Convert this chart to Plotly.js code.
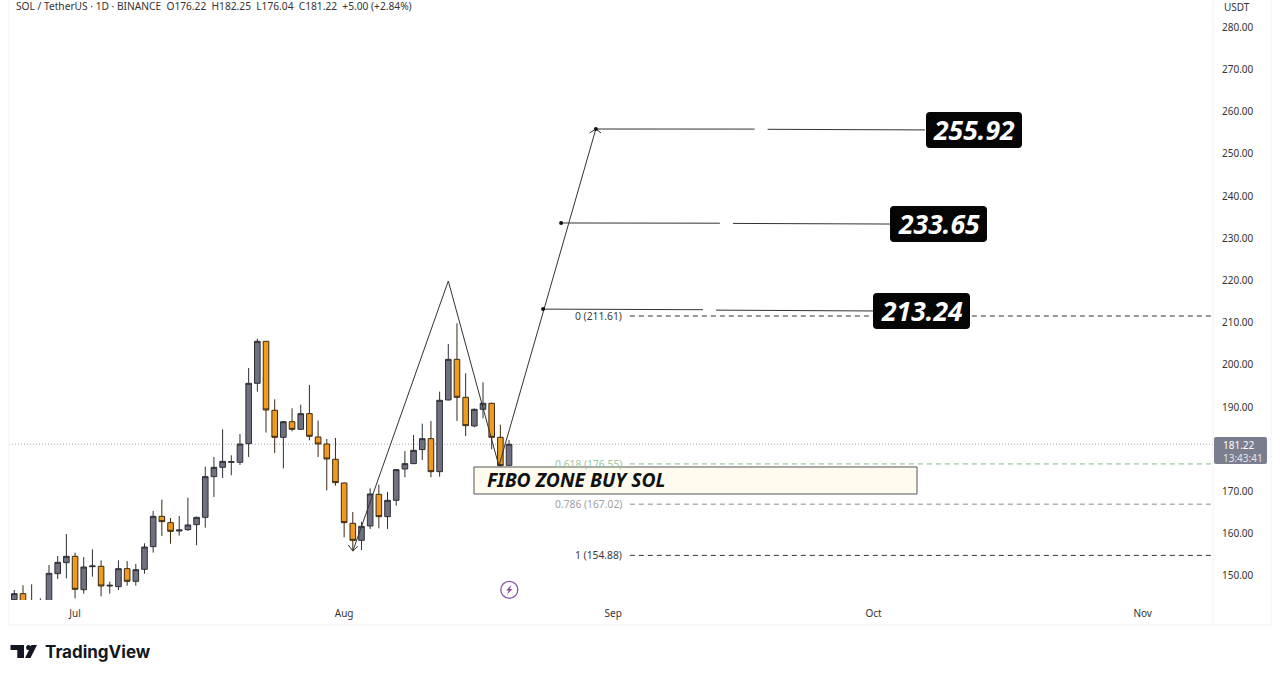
<!DOCTYPE html>
<html><head><meta charset="utf-8">
<script src="https://cdn.plot.ly/plotly-3.0.1.min.js"></script>
<style>html,body{margin:0;padding:0;background:#fff}#c{width:1280px;height:678px}</style>
</head><body><div id="c"></div>
<script>
const firstDay = '2025-06-24';
const opens = [144.39,145.81,142,142,143.6,150.55,153.16,154.66,146.76,152.21,152.29,147.63,147.47,151.74,148.74,151.58,156.95,164.14,162.64,160.66,160.98,162.16,163.90,173.54,175.75,176.94,176.94,181.36,195.66,205.61,189.26,182.86,186.57,184.75,188.47,182.94,181.28,177.65,172.04,162.48,158.45,161.85,169.35,164.06,167.93,175.36,176.62,179.94,182.54,174.72,191.71,201.34,192.34,185.55,189.49,190.92,182.86,176.22];
const highs = [146.68,147.79,148.03,144.71,152.61,154.74,159.95,155.53,154.50,156.32,153.71,148.66,153.71,153.55,152.84,157.74,165.40,168.09,163.74,164.22,168.56,164.06,175.91,178.20,184.75,178.59,183.65,199.29,206.24,205.61,191.86,186.65,189.73,190.60,195.26,186.81,182.46,182.70,172.10,165.17,162.88,170.77,171.64,169.91,175.28,179.62,183.41,186.10,186.73,193.68,204.98,209.87,198.03,189.73,195.89,191.07,185.86,182.25];
const lows = [144.15,143.2,141.8,141,143,149.29,149.45,144.71,145.81,149.84,145.18,145.81,146.68,147.71,147.71,150.55,155.53,159.48,157.66,159.56,160.66,157.27,161.45,168.72,173.22,173.85,176.30,178.20,193.68,183.97,179.15,175.51,184.28,184.60,182.15,178.20,170.30,171.41,159.16,156.16,156.16,161.14,161.30,161.14,166.67,173.38,176.54,177.49,173.38,173.54,191.63,186.73,183.18,185.23,187.36,180.02,175.91,176.04];
const closes = [145.81,143.5,143.8,144.0,150.63,153.24,154.66,146.84,152.13,152.37,147.63,147.79,151.74,148.74,151.50,156.87,164.14,162.88,160.58,160.90,162.09,163.90,173.54,175.75,177.17,177.09,181.28,195.66,205.61,189.34,182.86,186.57,184.75,188.47,183.10,181.28,177.73,172.12,162.64,158.45,161.77,169.43,164.06,167.93,175.20,176.62,179.78,182.54,174.72,191.63,201.34,192.34,185.62,189.49,190.92,182.86,176.15,181.22];

const tickDates = ['2025-07-01','2025-08-01','2025-09-01','2025-10-01','2025-11-01'];
const tickLabels = ['Jul','Aug','Sep','Oct','Nov'];
const xRange = ['2025-06-23 09:22','2025-11-09 02:24'];
const yRange = [144.31,286.49];
const lastClose = 181.22;

const zigDates = ['2025-08-02 00:00','2025-08-13 00:00','2025-08-18 20:00','2025-08-30 00:00'];
const zigPrices = [155.9,219.9,176.07,255.92];

const target1Dates = ['2025-08-23 22:00','2025-09-11 08:00',null,'2025-09-12 20:00','2025-09-30 22:00'];
const target1Prices = [213.24,213.1,null,213.0,212.8];
const target2Dates = ['2025-08-26 00:00','2025-09-13 07:00',null,'2025-09-14 19:00','2025-10-02 22:00'];
const target2Prices = [233.65,233.6,null,233.55,233.4];
const target3Dates = ['2025-08-30 00:00','2025-09-17 07:00',null,'2025-09-18 19:00','2025-10-06 22:00'];
const target3Prices = [255.92,255.9,null,255.85,255.7];

const dotDates = ['2025-08-23 22:00','2025-08-26 00:00','2025-08-30 00:00'];
const dotPrices = [213.24,233.65,255.92];

const arrowDates = ['2025-08-01 11:30','2025-08-02 00:00','2025-08-02 14:00',null,'2025-08-29 07:00','2025-08-30 00:00','2025-08-30 14:00'];
const arrowPrices = [157.35,155.9,157.1,null,255.0,255.92,255.0];

const fibNames = ['0 (211.61)','0.618 (176.55)','0.786 (167.02)','1 (154.88)'];
const fibPrices = [211.61,176.55,167.02,154.88];
const fibTextColors = ['#3a3a3a','#9cc79c','#a0a0a0','#3a3a3a'];
const fibLineColors = ['#333333','#86b886','#8a8a8a','#333333'];
const fibStart = '2025-09-02 22:00';
const fibLabelAt = '2025-09-02 02:00';

const zoneText = 'FIBO ZONE BUY SOL';
const zoneDates = ['2025-08-15 23:00','2025-10-06 00:00'];
const zonePrices = [175.83,169.43];

const targetLabels = ['213.24','233.65','255.92'];
const targetBoxes = [[873,293,970,329],[890,206,987,242],[926,112,1022,148]];

const headerText = 'SOL / TetherUS · 1D · BINANCE  O176.22  H182.25  L176.04  C181.22  +5.00 (+2.84%)';

// page pixel to paper coordinates, for the chrome around the plot
const L=9,R=1213,B=600;
const px=x=>(x-L)/(R-L), py=y=>1-y/B;
function round(x0,y0,x1,y1,r){
  const P=(x,y)=>px(x)+','+py(y);
  return 'M'+P(x0+r,y0)+' L'+P(x1-r,y0)+' Q'+P(x1,y0)+' '+P(x1,y0+r)+' L'+P(x1,y1-r)+' Q'+P(x1,y1)+' '+P(x1-r,y1)+
    ' L'+P(x0+r,y1)+' Q'+P(x0,y1)+' '+P(x0,y1-r)+' L'+P(x0,y0+r)+' Q'+P(x0,y0)+' '+P(x0+r,y0)+' Z';
}
function poly(pts){return 'M'+pts.map(p=>px(p[0])+','+py(p[1])).join(' L')+' Z';}
function circle(cx,cy,r){return {type:'circle',xref:'paper',yref:'paper',x0:px(cx-r),x1:px(cx+r),y0:py(cy+r),y1:py(cy-r)};}
const FONT='"Noto Sans", sans-serif';
function note(x,y,text,size,color,anchor,family){
  return {xref:'paper',yref:'paper',x:px(x),y:py(y),text,showarrow:false,xanchor:anchor||'left',yanchor:'middle',
    font:{family:family||FONT,size,color},borderpad:0};
}

const days=opens.map((_,i)=>new Date(Date.parse(firstDay+'T00:00:00Z')+i*864e5).toISOString().slice(0,10));

const lineT=(x,y,color,w)=>({type:'scatter',mode:'lines',x,y,connectgaps:false,line:{color,width:w||1},hoverinfo:'skip',showlegend:false});
const data=[
 {type:'candlestick',x:days,open:opens,high:highs,low:lows,close:closes,whiskerwidth:0,
  increasing:{line:{color:'#2e2f36',width:1},fillcolor:'#6f7180'},
  decreasing:{line:{color:'#3a2a14',width:1},fillcolor:'#f09b20'},hoverinfo:'skip',showlegend:false},
 lineT(zigDates,zigPrices,'#333333',1),
 lineT(target1Dates,target1Prices,'#333333',1),
 lineT(target2Dates,target2Prices,'#333333',1),
 lineT(target3Dates,target3Prices,'#333333',1),
 lineT(arrowDates,arrowPrices,'#333333',1),
 {type:'scatter',mode:'markers',x:dotDates,y:dotPrices,marker:{size:4,color:'#111'},hoverinfo:'skip',showlegend:false}
];

const shapes=[
 {type:'line',layer:'below',xref:'paper',x0:0,x1:1,yref:'y',y0:lastClose,y1:lastClose,line:{color:'#a8a8a8',width:1,dash:'1px,2px'}},
];
fibPrices.forEach((p,i)=>shapes.push({type:'line',layer:'below',xref:'x',yref:'y',x0:fibStart,x1:xRange[1],y0:p,y1:p,
  line:{color:fibLineColors[i],width:1,dash:'5px,4px'}}));
shapes.push({type:'rect',layer:'above',xref:'x',yref:'y',x0:zoneDates[0],x1:zoneDates[1],y0:zonePrices[0],y1:zonePrices[1],
  fillcolor:'#fffbef',line:{color:'#555555',width:1}});
targetBoxes.forEach(b=>shapes.push({type:'path',layer:'above',xref:'paper',yref:'paper',path:round(b[0],b[1],b[2],b[3],4),fillcolor:'#050505',line:{width:0}}));
// last-price tag
shapes.push({type:'path',xref:'paper',yref:'paper',path:round(1214,437,1267,464,2),fillcolor:'#7b7e8e',line:{width:0}});
// frame
[[9,0,9,625],[9,625,1271,625],[1271,0,1271,625],[1213,0,1213,625]].forEach(s=>shapes.push({type:'line',xref:'paper',yref:'paper',
  x0:px(s[0]),y0:py(s[1]),x1:px(s[2]),y1:py(s[3]),line:{color:'#f1f2f4',width:1}}));
// bolt icon
shapes.push(Object.assign(circle(509.3,589.8,8.5),{line:{color:'#8e4fa8',width:1.3},fillcolor:'rgba(0,0,0,0)'}));
shapes.push({type:'path',xref:'paper',yref:'paper',path:poly([[511.5,585],[506,590.6],[508.7,590.6],[507,594.6],[512.6,589],[509.9,589]]),fillcolor:'#8e4fa8',line:{width:0}});
// logo
shapes.push({type:'path',xref:'paper',yref:'paper',path:poly([[10.5,645],[24,645],[24,658],[17.3,658],[17.3,650],[10.5,650]]),fillcolor:'#131722',line:{width:0}});
shapes.push(Object.assign(circle(28.6,647.5,2.5),{fillcolor:'#131722',line:{width:0}}));
shapes.push({type:'path',xref:'paper',yref:'paper',path:poly([[31.5,645],[37,645],[30.5,658],[25,658]]),fillcolor:'#131722',line:{width:0}});

const annotations=[
 note(15,6,headerText,10.2,'#333'),
 note(1237,7,'USDT',10,'#333','center'),
 note(1222,445,'181.22',10,'#ffffff'),
 note(1222,458,'13:43:41',10,'#e4e5ea'),
 note(43.5,652,'<b>TradingView</b>',17,'#131722','left','Inter, sans-serif'),
];
fibNames.forEach((t,i)=>annotations.push({xref:'x',yref:'y',x:fibLabelAt,y:fibPrices[i],text:t,showarrow:false,xanchor:'right',yanchor:'middle',
  font:{family:FONT,size:10.3,color:fibTextColors[i]},borderpad:0}));
annotations.push(note(486,479,'<i><b>'+zoneText+'</b></i>',19.3,'#111'));
targetLabels.forEach((t,i)=>{const b=targetBoxes[i];
  annotations.push(note((b[0]+b[2])/2,(b[1]+b[3])/2,'<i><b>'+t+'</b></i>',26.5,'#ffffff','center'));});

const layout={
 width:1280,height:678,margin:{l:L,r:1280-R,t:0,b:678-B,pad:0},
 paper_bgcolor:'#fff',plot_bgcolor:'#fff',showlegend:false,hovermode:false,
 boxgap:0.08,
 xaxis:{type:'date',range:xRange,tickmode:'array',tickvals:tickDates,ticktext:tickLabels,showgrid:false,zeroline:false,showline:false,
   ticks:'',ticklen:0,ticklabelstandoff:6,tickfont:{family:FONT,size:10,color:'#333'},rangeslider:{visible:false},fixedrange:true},
 yaxis:{side:'right',range:yRange,tick0:0,dtick:10,tickformat:'.2f',showgrid:false,zeroline:false,showline:false,
   ticks:'',ticklen:0,ticklabelstandoff:8,tickfont:{family:FONT,size:10,color:'#333'},fixedrange:true},
 shapes,annotations
};
Plotly.newPlot('c',data,layout,{displayModeBar:false,staticPlot:true});
</script></body></html>
